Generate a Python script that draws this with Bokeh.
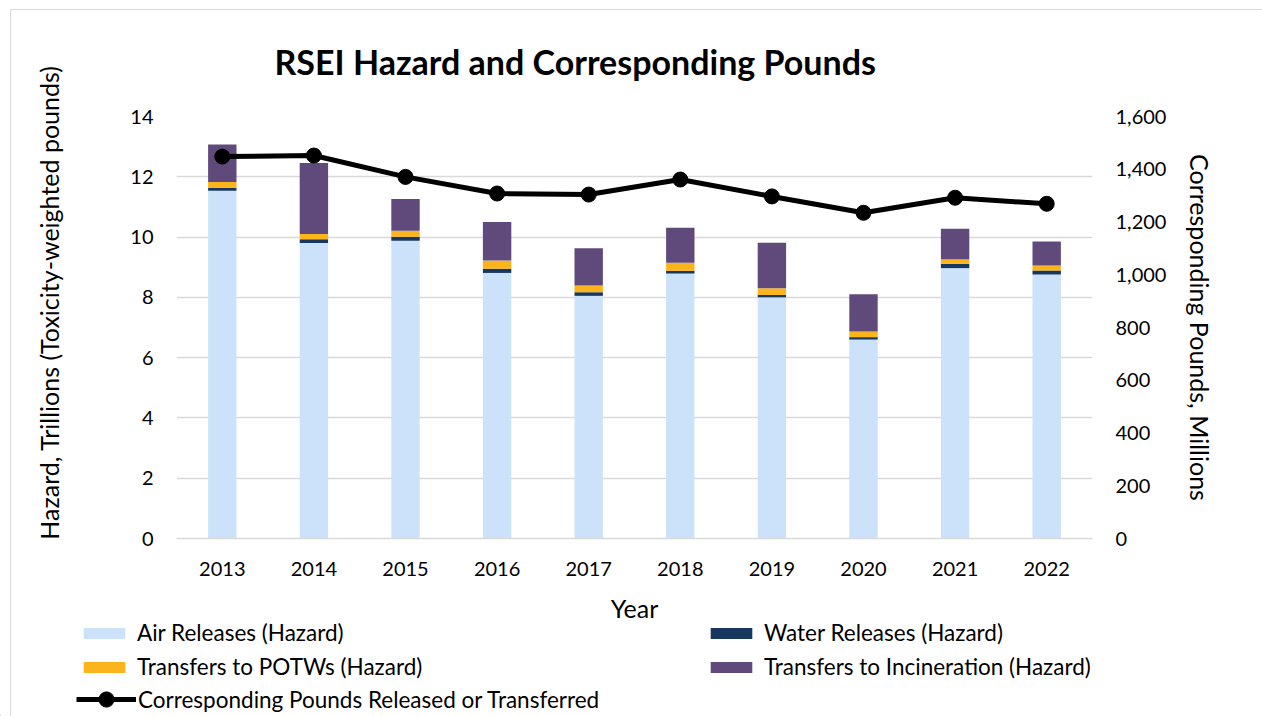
import math
from bokeh.plotting import figure
from bokeh.models import (ColumnDataSource, FactorRange, Range1d, LinearAxis, Legend,
                          LegendItem, NumeralTickFormatter, FixedTicker, Label)
from bokeh.layouts import row, column
from bokeh.embed import file_html
from bokeh.resources import INLINE

years = ["2013", "2014", "2015", "2016", "2017", "2018", "2019", "2020", "2021", "2022"]
air = [11.54, 9.80, 9.88, 8.81, 8.05, 8.79, 8.00, 6.60, 8.97, 8.76]
water = [0.10, 0.13, 0.13, 0.14, 0.12, 0.09, 0.08, 0.08, 0.14, 0.13]
potw = [0.19, 0.17, 0.20, 0.27, 0.22, 0.27, 0.22, 0.19, 0.15, 0.17]
incin = [1.24, 2.36, 1.05, 1.28, 1.24, 1.16, 1.51, 1.23, 1.02, 0.79]
pounds = [1448, 1452, 1371, 1308, 1304, 1361, 1297, 1235, 1292, 1269]

series_names = ["Air Releases (Hazard)", "Water Releases (Hazard)",
                "Transfers to POTWs (Hazard)", "Transfers to Incineration (Hazard)"]
line_name = "Corresponding Pounds Released or Transferred"
chart_title = "RSEI Hazard and Corresponding Pounds"
left_title = "Hazard, Trillions (Toxicity-weighted pounds)"
right_title = "Corresponding Pounds, Millions"
x_title = "Year"
colors = ["#cce2fa", "#17375e", "#fbb41b", "#604a7b"]

FONT = "Lato"
TXT = "#000000"

src = ColumnDataSource(dict(year=years, air=air, water=water, potw=potw, incin=incin,
                            pounds=pounds))

# ---------------- main chart ----------------
p = figure(x_range=FactorRange(*years, range_padding=0), y_range=Range1d(0, 14),
           width=1192, height=590, frame_width=916, frame_height=422,
           min_border_left=106, min_border_right=170, min_border_top=116,
           min_border_bottom=52, output_backend="svg", toolbar_location=None,
           title=chart_title)
p.extra_y_ranges = {"pounds": Range1d(0, 1600)}

bars = p.vbar_stack(["air", "water", "potw", "incin"], x="year", width=0.31,
                    color=colors, line_color=None, source=src)
p.line("year", "pounds", source=src, y_range_name="pounds", line_color="black",
       line_width=5)
p.scatter("year", "pounds", source=src, y_range_name="pounds", size=15,
          fill_color="black", line_color="black")

p.title.text_font = FONT
p.title.text_font_size = "34px"
p.title.text_font_style = "bold"
p.title.text_color = TXT
p.title.align = "left"
p.title.offset = 98
p.title.standoff = 70

p.outline_line_color = None
p.background_fill_color = "white"
p.border_fill_color = None
p.xgrid.grid_line_color = None
p.ygrid.grid_line_color = "#d9d9d9"
p.ygrid.grid_line_width = 1.3
p.yaxis.ticker = FixedTicker(ticks=[0, 2, 4, 6, 8, 10, 12, 14])


def style_axis(ax):
    ax.major_label_text_font = FONT
    ax.major_label_text_font_size = "20px"
    ax.major_label_text_color = TXT
    ax.axis_label_text_font = FONT
    ax.axis_label_text_font_size = "25px"
    ax.axis_label_text_font_style = "normal"
    ax.axis_label_text_color = TXT
    ax.major_tick_line_color = None
    ax.minor_tick_line_color = None


style_axis(p.xaxis[0])
style_axis(p.yaxis[0])
p.xaxis.axis_line_color = "#d9d9d9"
p.xaxis.axis_line_width = 1.3
p.xaxis.major_label_standoff = 17
p.yaxis.axis_line_color = None
p.yaxis.major_label_standoff = 17

rax = LinearAxis(y_range_name="pounds", axis_label=right_title,
                 ticker=FixedTicker(ticks=list(range(0, 1601, 200))),
                 formatter=NumeralTickFormatter(format="0,0"))
style_axis(rax)
rax.axis_line_color = None
rax.major_label_standoff = 17
rax.axis_label_standoff = 16
p.add_layout(rax, "right")

# ---------------- left strip with the left axis title ----------------
lf = figure(width=70, height=590, x_range=Range1d(0, 70), y_range=Range1d(0, 590),
            x_axis_location=None, y_axis_location=None, min_border=0,
            output_backend="svg", toolbar_location=None)
lf.grid.visible = False
lf.outline_line_color = None
lf.background_fill_color = None
lf.border_fill_color = None
lf.add_layout(Label(x=48, y=288, text=left_title, angle=math.pi / 2, text_align="center",
                    text_baseline="middle", text_font=FONT, text_font_size="25px",
                    text_color=TXT))

# ---------------- bottom strip: x title and legends ----------------
bf = figure(frame_width=1262, frame_height=126, x_range=Range1d(0, 1262),
            y_range=Range1d(0, 126), x_axis_location=None, y_axis_location=None,
            min_border=0, output_backend="svg", toolbar_location=None)
bf.grid.visible = False
bf.outline_line_color = None
bf.background_fill_color = None
bf.border_fill_color = None
bf.add_layout(Label(x=634, y=109, text=x_title, text_align="center",
                    text_baseline="middle", text_font=FONT, text_font_size="25px",
                    text_color=TXT))

# proxy glyphs (outside the visible range) that carry the legend styles
proxies = [bf.vbar(x=[-500], top=[1], width=1, color=c, line_color=None) for c in colors]
pl = bf.line(x=[-500, -490], y=[-500, -500], line_color="black", line_width=5)
pp = bf.scatter(x=[-500], y=[-500], size=15, fill_color="black", line_color="black")


def make_legend(items, loc, gw, gh, standoff):
    lg = Legend(items=items, location=loc, orientation="vertical")
    lg.label_text_font = FONT
    lg.label_text_font_size = "22.5px"
    lg.label_text_color = TXT
    lg.glyph_width = gw
    lg.glyph_height = gh
    lg.label_height = 27
    lg.label_standoff = standoff
    lg.spacing = 7
    lg.padding = 0
    lg.margin = 0
    lg.border_line_color = None
    lg.background_fill_alpha = 0
    return lg


leg_a = make_legend([LegendItem(label=series_names[0], renderers=[proxies[0]]),
                     LegendItem(label=series_names[2], renderers=[proxies[2]])],
                    (78, 36), 52, 14, 7)
leg_b = make_legend([LegendItem(label=series_names[1], renderers=[proxies[1]]),
                     LegendItem(label=series_names[3], renderers=[proxies[3]])],
                    (705, 36), 52, 14, 7)
leg_c = make_legend([LegendItem(label=line_name, renderers=[pl, pp])],
                    (76, -2), 60, 38, 2)
for lg in (leg_a, leg_b, leg_c):
    bf.add_layout(lg, "center")

layout = column(row(lf, column(p)), bf,
                styles={"box-shadow": "inset 10px 9px 0 0 #ffffff, inset 11px 10px 0 0 #d9d9d9"})

open("out.html", "w").write(file_html(layout, INLINE))
